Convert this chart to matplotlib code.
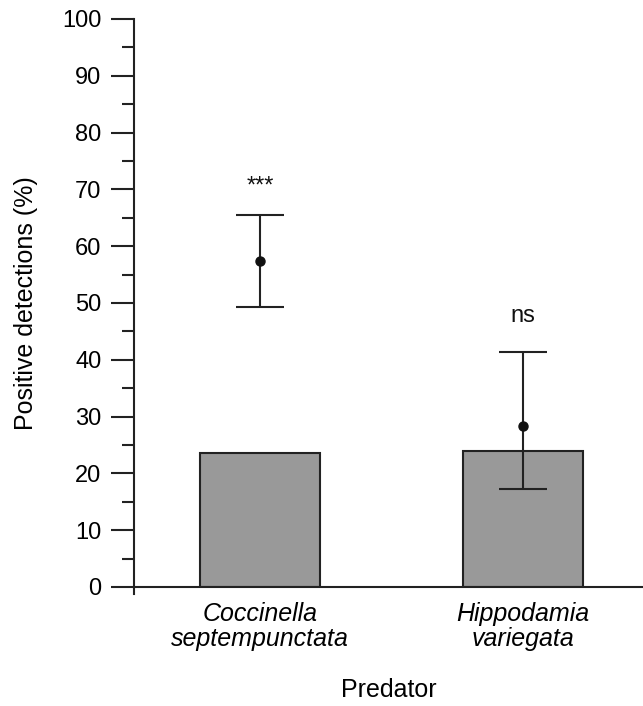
import matplotlib
matplotlib.use('Agg')
import matplotlib.pyplot as plt
from matplotlib.ticker import MultipleLocator

plt.rcParams['font.family'] = ['Liberation Sans', 'DejaVu Sans']

predators = ['Coccinella\nseptempunctata', 'Hippodamia\nvariegata']
expected = [23.5, 24.0]          # bar heights
observed = [57.4, 28.4]          # points
ci_low = [49.3, 17.3]
ci_high = [65.5, 41.3]
signif = ['***', 'ns']
signif_y = [69.5, 46.7]

fig = plt.figure(figsize=(6.43, 7.06), dpi=100)
ax = fig.add_axes([0.2084, 0.1686, 0.7916, 0.8045])

x = range(len(predators))
ax.bar(x, expected, width=0.456, color='#999999', edgecolor='#222222', linewidth=1.5, zorder=2)

lo = [o - l for o, l in zip(observed, ci_low)]
hi = [h - o for o, h in zip(observed, ci_high)]
ax.errorbar(x, observed, yerr=[lo, hi], fmt='o', color='#111111', ms=6.5,
            ecolor='#222222', elinewidth=1.5, capsize=17, capthick=1.5, zorder=3)

for i, s in enumerate(signif):
    ax.text(i, signif_y[i], s, ha='center', va='baseline', fontsize=17, color='#111111')

ax.set_xlim(-0.479, 1.456)
ax.set_ylim(0, 100)
ax.yaxis.set_major_locator(MultipleLocator(10))
ax.yaxis.set_minor_locator(MultipleLocator(5))
ax.tick_params(axis='y', which='major', length=16.5, width=1.5, labelsize=17, color='#222222', pad=7)
ax.tick_params(axis='y', which='minor', length=8.5, width=1.5, color='#222222')
ax.set_xticks(list(x))
ax.set_xticklabels(predators, style='italic', fontsize=18, linespacing=1.05)
ax.tick_params(axis='x', length=0, pad=11)

for side in ['top', 'right']:
    ax.spines[side].set_visible(False)
ax.spines['left'].set_linewidth(1.5)
ax.spines['bottom'].set_linewidth(1.5)
ax.spines['left'].set_color('#222222')
ax.spines['bottom'].set_color('#222222')
ax.spines['left'].set_bounds(-1.3, 100)

ax.set_ylabel('Positive detections (%)', fontsize=18, labelpad=17)
ax.set_xlabel('Predator', fontsize=18, labelpad=19)

fig.savefig('out.png', dpi=100)
